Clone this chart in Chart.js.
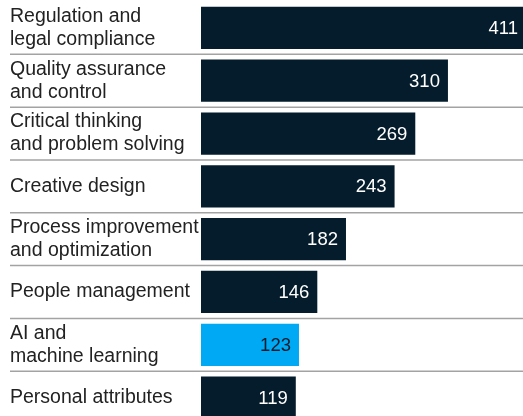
<!DOCTYPE html>
<html>
<head>
<meta charset="utf-8">
<script src="https://cdn.jsdelivr.net/npm/chart.js@4/dist/chart.umd.min.js"></script>
<style>
html,body{margin:0;padding:0;background:#fff;overflow:hidden;}
#wrap{width:523px;height:416px;overflow:hidden;position:relative;}
canvas{display:block;}
</style>
</head>
<body>
<div id="wrap"><canvas id="c" width="530" height="424"></canvas></div>
<script>
const categories = [
  ["Regulation and", "legal compliance"],
  ["Quality assurance", "and control"],
  ["Critical thinking", "and problem solving"],
  ["Creative design"],
  ["Process improvement", "and optimization"],
  ["People management"],
  ["AI and", "machine learning"],
  ["Personal attributes"]
];
const values = [411, 310, 269, 243, 182, 146, 123, 119];
const highlight = [false, false, false, false, false, false, true, false];

const DARK = '#051c2c';
const CYAN = '#00a9f4';
const FONT = '"Liberation Sans", Arial, Helvetica, sans-serif';

const separators = {
  id: 'separators',
  beforeDatasetsDraw(chart) {
    const ctx = chart.ctx;
    const y = chart.scales.y;
    ctx.save();
    ctx.strokeStyle = '#a3a3a3';
    ctx.lineWidth = 1.5;
    for (let i = 1; i < categories.length; i++) {
      const py = (y.getPixelForValue(i - 1) + y.getPixelForValue(i)) / 2;
      ctx.beginPath();
      ctx.moveTo(10, py);
      ctx.lineTo(chart.width, py);
      ctx.stroke();
    }
    ctx.restore();
  }
};

const valueLabels = {
  id: 'valueLabels',
  afterDatasetsDraw(chart) {
    const ctx = chart.ctx;
    const meta = chart.getDatasetMeta(0);
    ctx.save();
    ctx.font = '18.5px ' + FONT;
    ctx.textAlign = 'right';
    ctx.textBaseline = 'middle';
    meta.data.forEach((bar, i) => {
      ctx.fillStyle = highlight[i] ? DARK : '#ffffff';
      const x = Math.min(bar.x - 8, 518);
      ctx.fillText(String(values[i]), x, bar.y + 1);
    });
    ctx.restore();
  }
};

new Chart(document.getElementById('c'), {
  type: 'bar',
  data: {
    labels: categories,
    datasets: [{
      data: values,
      backgroundColor: highlight.map(h => h ? CYAN : DARK),
      borderWidth: 0,
      categoryPercentage: 1.0,
      barPercentage: 0.8
    }]
  },
  options: {
    indexAxis: 'y',
    responsive: false,
    animation: false,
    devicePixelRatio: 1,
    layout: { padding: { left: 10, top: 1.5, right: 0, bottom: 0 } },
    plugins: { legend: { display: false }, tooltip: { enabled: false } },
    scales: {
      x: { display: false, min: 0, max: 413 },
      y: {
        border: { display: false },
        grid: { display: false },
        afterFit(scale) {
          scale.width = 191;
          scale.paddingTop = 0;
          scale.paddingBottom = 0;
        },
        ticks: {
          crossAlign: 'far',
          padding: 0,
          color: '#222222',
          font: { family: FONT, size: 19.5, lineHeight: 1.18 }
        }
      }
    }
  },
  plugins: [separators, valueLabels]
});
</script>
</body>
</html>
